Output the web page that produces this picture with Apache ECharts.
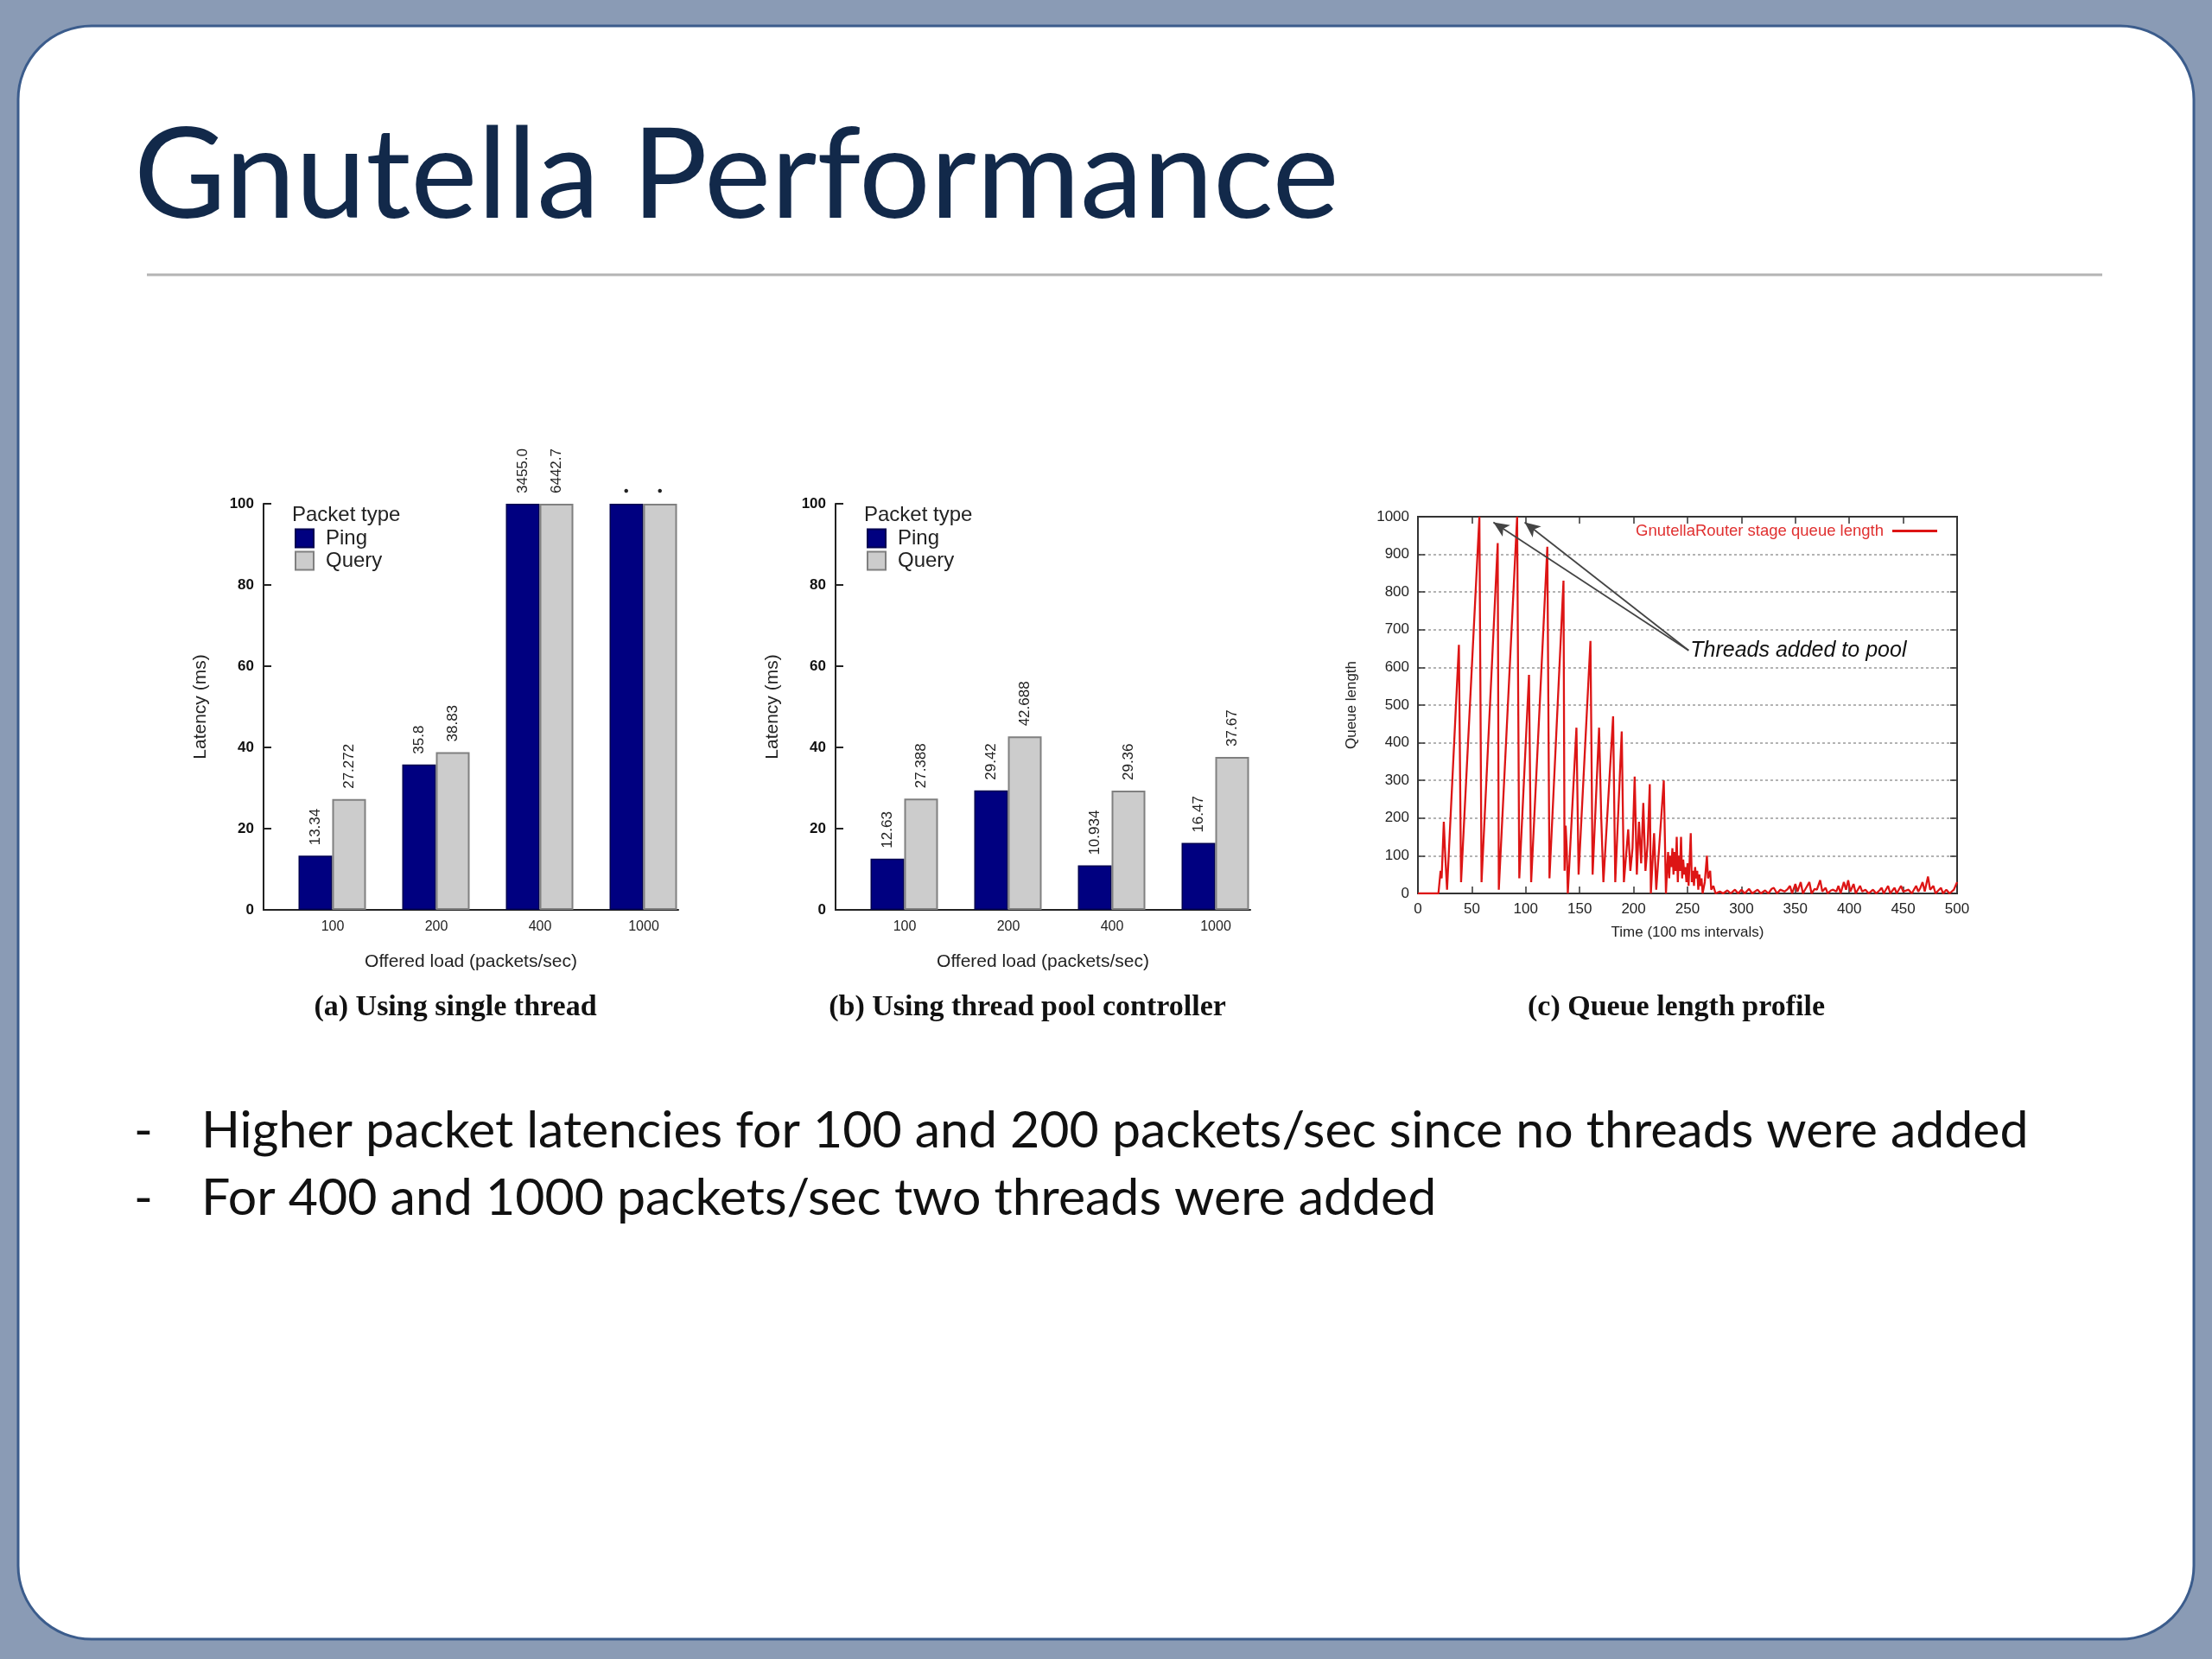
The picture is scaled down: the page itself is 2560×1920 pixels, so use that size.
<!DOCTYPE html>
<html>
<head>
<meta charset="utf-8">
<style>
html,body{margin:0;padding:0;width:2560px;height:1920px;overflow:hidden;background:#8a9bb5;}
#chart{width:2560px;height:1920px;}
</style>
<script src="https://cdn.jsdelivr.net/npm/echarts@6/dist/echarts.min.js"></script>
</head>
<body>
<div id="chart"></div>
<script>
// ---------- text ----------
const slideTitle = 'Gnutella Performance';
const bulletLines = [
  'Higher packet latencies for 100 and 200 packets/sec since no threads were added',
  'For 400 and 1000 packets/sec two threads were added'
];
const captions = ['(a) Using single thread', '(b) Using thread pool controller', '(c) Queue length profile'];

// ---------- bar charts ----------
const loads = ['100', '200', '400', '1000'];
const pingA = [13.34, 35.8, 100, 100];
const queryA = [27.272, 38.83, 100, 100];
const pingALabels = ['13.34', '35.8', '3455.0', '•'];
const queryALabels = ['27.272', '38.83', '6442.7', '•'];
const pingB = [12.63, 29.42, 10.934, 16.47];
const queryB = [27.388, 42.688, 29.36, 37.67];
const pingBLabels = ['12.63', '29.42', '10.934', '16.47'];
const queryBLabels = ['27.388', '42.688', '29.36', '37.67'];

// ---------- queue length profile: [time, queue length] ----------
const queueLength = [
  [0,0],[19,0],[21,60],[22,40],[24,190],[25,120],[27,10],[38,660],[40,30],[57,1000],[59,30],
  [74,930],[75,10],[92,1000],[94,40],[103,580],[105,30],[120,920],[122,40],[135,830],[136,60],
  [137,180],[138,120],[139,0],[147,440],[149,50],[160,670],[162,50],[168,440],[170,200],[172,30],
  [181,470],[183,30],[189,430],[191,30],[195,170],[197,60],[199,120],[201,310],[203,50],[205,190],
  [207,80],[209,240],[211,60],[213,130],[215,290],[216,0],[219,160],[221,10],[228,300],[230,0],
  [231,60],[232,110],[233,40],[234,100],[235,70],[236,120],[237,50],[238,110],[239,60],[240,150],
  [241,30],[242,100],[243,60],[244,150],[245,40],[246,90],[247,50],[248,70],[249,30],[250,80],
  [251,20],[253,160],[254,30],[255,60],[256,20],[257,70],[258,40],[259,60],[260,10],[261,50],
  [262,20],[263,40],[264,0],[266,30],[268,100],[269,40],[271,60],[272,10],[274,20],[276,0],
  [280,5],[283,0],[287,8],[290,0],[294,10],[297,0],[300,10],[303,0],[307,12],[310,0],[315,10],
  [318,0],[322,8],[325,0],[328,12],[330,15],[333,0],[336,10],[340,5],[343,12],[345,20],[347,0],
  [350,25],[352,5],[355,30],[357,0],[360,15],[363,30],[365,0],[368,12],[370,10],[373,35],[375,5],
  [378,15],[380,0],[383,8],[385,10],[388,5],[390,20],[392,0],[395,30],[397,10],[399,35],[401,5],
  [404,25],[406,0],[410,20],[412,5],[415,10],[418,0],[422,10],[425,0],[428,8],[430,15],[432,0],
  [436,20],[438,0],[442,15],[444,0],[448,20],[450,5],[455,10],[458,0],[462,20],[464,5],[466,15],
  [468,30],[470,5],[473,45],[475,10],[478,20],[480,0],[485,15],[487,0],[490,10],[493,0],[497,10],
  [500,30]
];
const annotationText = 'Threads added to pool';
const annotationFrom = [251, 645];
const annotationTips = [[70, 985], [99, 985]];

// ---------- styling ----------
const SANS = '"Liberation Sans", Arial, sans-serif';
const SERIF = '"Liberation Serif", "Times New Roman", serif';
const PING_COLOR = '#000080';
const QUERY_COLOR = '#cccccc';
const RED = '#dd1515';

const barGrids = [
  {left: 305, top: 583, width: 480, height: 470},
  {left: 967, top: 583, width: 480, height: 470}
];
const lineGrid = {left: 1641, top: 598, width: 624, height: 436};

function barXAxis(idx) {
  return {
    type: 'category', gridIndex: idx, data: loads,
    axisLine: {lineStyle: {color: '#222', width: 2}},
    axisTick: {show: false},
    axisLabel: {color: '#222', fontFamily: SANS, fontSize: 16, margin: 12, padding: [0, 0, 0, 40]},
    name: 'Offered load (packets/sec)', nameLocation: 'middle', nameGap: 50,
    nameTextStyle: {color: '#222', fontFamily: SANS, fontSize: 21}
  };
}
function barYAxis(idx) {
  return {
    type: 'value', gridIndex: idx, min: 0, max: 100, interval: 20,
    axisLine: {show: true, lineStyle: {color: '#222', width: 2}},
    axisTick: {show: true, inside: true, length: 9, lineStyle: {color: '#222', width: 2}},
    splitLine: {show: false},
    axisLabel: {color: '#111', fontFamily: SANS, fontSize: 17, fontWeight: 'bold', margin: 11},
    name: 'Latency (ms)', nameLocation: 'middle', nameGap: 62,
    nameTextStyle: {color: '#222', fontFamily: SANS, fontSize: 21}
  };
}
function barLabel(labels) {
  return {
    show: true, position: 'top', rotate: 90, align: 'left', verticalAlign: 'middle',
    distance: 12, color: '#222', fontFamily: SANS, fontSize: 17,
    formatter: p => labels[p.dataIndex]
  };
}
function barSeries(idx, ping, query, pingLabels, queryLabels) {
  return [
    {type: 'bar', name: '', xAxisIndex: idx, yAxisIndex: idx, barWidth: 39, barGap: '0%',
     data: [null, null, null, null], silent: true, itemStyle: {color: 'rgba(0,0,0,0)'}},
    {type: 'bar', name: 'Ping', xAxisIndex: idx, yAxisIndex: idx, barWidth: 39, barGap: '0%',
     data: ping, itemStyle: {color: PING_COLOR, borderColor: '#000050', borderWidth: 1.5},
     label: barLabel(pingLabels)},
    {type: 'bar', name: 'Query', xAxisIndex: idx, yAxisIndex: idx, barWidth: 39, barGap: '0%',
     data: query, itemStyle: {color: QUERY_COLOR, borderColor: '#808080', borderWidth: 2},
     label: barLabel(queryLabels)}
  ];
}
function barLegend(left) {
  return {
    data: ['Ping', 'Query'], orient: 'vertical', left: left, top: 611, padding: 0,
    itemWidth: 21, itemHeight: 21, itemGap: 2, icon: 'rect', selectedMode: false,
    textStyle: {color: '#222', fontFamily: SANS, fontSize: 24, padding: [0, 0, 0, 9]}
  };
}

const chart = echarts.init(document.getElementById('chart'), null, {renderer: 'canvas'});

const option = {
  animation: false,
  backgroundColor: '#8a9bb5',
  grid: [barGrids[0], barGrids[1], Object.assign({show: true, borderColor: '#333', borderWidth: 2, backgroundColor: '#fff'}, lineGrid)],
  xAxis: [
    barXAxis(0), barXAxis(1),
    {
      type: 'value', gridIndex: 2, min: 0, max: 500, interval: 50,
      axisLine: {onZero: false, lineStyle: {color: '#333', width: 2}},
      axisTick: {inside: true, length: 8, lineStyle: {color: '#333', width: 1.5}},
      splitLine: {show: false},
      axisLabel: {color: '#222', fontFamily: SANS, fontSize: 17, margin: 10},
      name: 'Time (100 ms intervals)', nameLocation: 'middle', nameGap: 37,
      nameTextStyle: {color: '#222', fontFamily: SANS, fontSize: 17}
    },
    {
      type: 'value', gridIndex: 2, min: 0, max: 500, interval: 50, position: 'top',
      axisLine: {onZero: false, lineStyle: {color: '#333', width: 2}},
      axisTick: {inside: true, length: 8, lineStyle: {color: '#333', width: 1.5}},
      axisLabel: {show: false}, splitLine: {show: false}
    }
  ],
  yAxis: [
    barYAxis(0), barYAxis(1),
    {
      type: 'value', gridIndex: 2, min: 0, max: 1000, interval: 100,
      axisLine: {show: true, onZero: false, lineStyle: {color: '#333', width: 2}},
      axisTick: {show: true, inside: true, length: 8, lineStyle: {color: '#333', width: 1.5}},
      splitLine: {show: true, lineStyle: {color: '#9a9a9a', type: [3, 3], width: 1.5}},
      axisLabel: {color: '#222', fontFamily: SANS, fontSize: 17, margin: 10, formatter: v => String(v)},
      name: 'Queue length', nameLocation: 'middle', nameGap: 68,
      nameTextStyle: {color: '#222', fontFamily: SANS, fontSize: 17}
    },
    {
      type: 'value', gridIndex: 2, min: 0, max: 1000, interval: 100, position: 'right',
      axisLine: {show: true, onZero: false, lineStyle: {color: '#333', width: 2}},
      axisTick: {show: true, inside: true, length: 8, lineStyle: {color: '#333', width: 1.5}},
      axisLabel: {show: false}, splitLine: {show: false}
    }
  ],
  legend: [
    barLegend(341),
    barLegend(1003),
    {
      data: ['GnutellaRouter stage queue length'], right: 318, top: 605, padding: 0,
      align: 'right', icon: 'rect', itemWidth: 52, itemHeight: 3, selectedMode: false,
      textStyle: {color: '#e03030', fontFamily: SANS, fontSize: 18.5, padding: [0, 5, 0, 0]}
    }
  ],
  series: [
    ...barSeries(0, pingA, queryA, pingALabels, queryALabels),
    ...barSeries(1, pingB, queryB, pingBLabels, queryBLabels),
    {
      type: 'line', name: 'GnutellaRouter stage queue length', xAxisIndex: 2, yAxisIndex: 2,
      data: queueLength, showSymbol: false, symbol: 'none',
      lineStyle: {color: RED, width: 2.3}, itemStyle: {color: RED},
      markLine: {
        silent: true, symbol: ['none', 'arrow'], symbolSize: [12, 18],
        lineStyle: {color: '#444', width: 1.8, type: 'solid'},
        label: {show: false},
        data: annotationTips.map(t => [{coord: annotationFrom}, {coord: t}])
      },
      markPoint: {
        silent: true, symbol: 'circle', symbolSize: 0,
        data: [{coord: annotationFrom, value: annotationText}],
        label: {show: true, position: 'right', distance: 2, formatter: annotationText,
                color: '#111', fontFamily: SANS, fontSize: 25, fontStyle: 'italic'}
      }
    }
  ],
  graphic: [
    {type: 'rect', z: -10, shape: {x: 21, y: 30, width: 2518, height: 1867, r: 85},
     style: {fill: '#ffffff', stroke: '#3b5c8c', lineWidth: 3}},
    {type: 'text', left: 155, top: 132, z: 10,
     style: {text: slideTitle, fill: '#12294a', font: '146px Lato, "Open Sans", sans-serif'}},
    {type: 'line', z: 10, shape: {x1: 170, y1: 318, x2: 2433, y2: 318},
     style: {stroke: '#b4b4b4', lineWidth: 3}},
    {type: 'text', x: 155, y: 1309, z: 10,
     style: {text: '-', fill: '#111', font: '59px Lato, sans-serif', verticalAlign: 'middle'}},
    {type: 'text', x: 233, y: 1309, z: 10,
     style: {text: bulletLines[0], fill: '#111', font: '59px Lato, sans-serif', verticalAlign: 'middle'}},
    {type: 'text', x: 155, y: 1387, z: 10,
     style: {text: '-', fill: '#111', font: '59px Lato, sans-serif', verticalAlign: 'middle'}},
    {type: 'text', x: 233, y: 1387, z: 10,
     style: {text: bulletLines[1], fill: '#111', font: '59px Lato, sans-serif', verticalAlign: 'middle'}},
    {type: 'text', x: 527, y: 1166, z: 10,
     style: {text: captions[0], fill: '#111', font: 'bold 34px ' + SERIF, align: 'center', verticalAlign: 'middle'}},
    {type: 'text', x: 1189, y: 1166, z: 10,
     style: {text: captions[1], fill: '#111', font: 'bold 34px ' + SERIF, align: 'center', verticalAlign: 'middle'}},
    {type: 'text', x: 1940, y: 1166, z: 10,
     style: {text: captions[2], fill: '#111', font: 'bold 34px ' + SERIF, align: 'center', verticalAlign: 'middle'}},
    {type: 'text', x: 338, y: 596, z: 10,
     style: {text: 'Packet type', fill: '#222', font: '24px ' + SANS, verticalAlign: 'middle'}},
    {type: 'text', x: 1000, y: 596, z: 10,
     style: {text: 'Packet type', fill: '#222', font: '24px ' + SANS, verticalAlign: 'middle'}}
  ]
};
chart.setOption(option);
</script>
</body>
</html>
